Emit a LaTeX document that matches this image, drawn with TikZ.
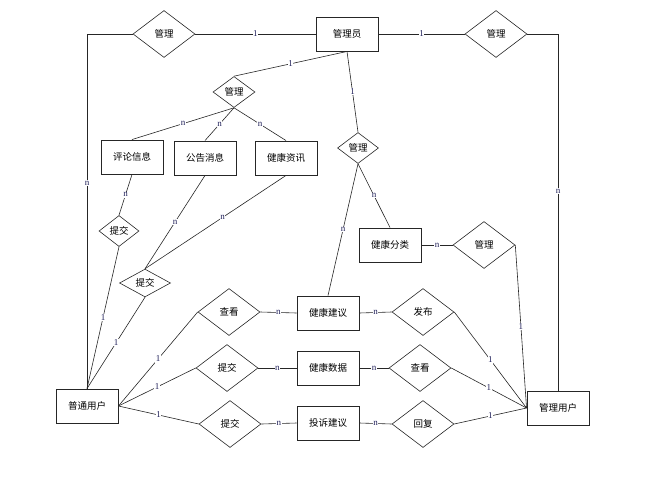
\documentclass[tikz,border=0pt]{standalone}
\usepackage{fontspec}
\setmainfont{Liberation Serif}
\newfontfamily\cjk{Noto Sans CJK SC}
\usetikzlibrary{shapes.geometric}
\definecolor{lblue}{rgb}{0.12,0.12,0.35}
\definecolor{edgegray}{rgb}{0.15,0.15,0.15}

\begin{document}
\begin{tikzpicture}[x=1pt, y=-1pt,
    ent/.style={draw=edgegray, line width=0.9pt, minimum width=62pt, minimum height=34pt, inner sep=0pt, font=\cjk\fontsize{9.5}{9.5}\selectfont},
    rel/.style={diamond, draw=edgegray, line width=0.6pt, inner sep=0pt, minimum width=62pt, minimum height=47pt, font=\cjk\fontsize{9.5}{9.5}\selectfont},
    srel/.style={rel, minimum width=42pt, minimum height=31pt},
    lnk/.style={draw=edgegray, line width=0.6pt},
    lab/.style={fill=white, inner sep=0.6pt, text=lblue, font=\fontsize{9}{9}\selectfont}]
    \useasboundingbox (0,0) rectangle (660,476);
    % entities
    \node[ent] (admin) at (347,34) {管理员};
    \node[ent] (pl) at (132,157) {评论信息};
    \node[ent] (gg) at (205,158) {公告消息};
    \node[ent] (zx) at (286,158) {健康资讯};
    \node[ent] (fl) at (390,245) {健康分类};
    \node[ent] (jy) at (328,313) {健康建议};
    \node[ent] (sj) at (328,368) {健康数据};
    \node[ent] (ts) at (328,423) {投诉建议};
    \node[ent] (user) at (87,406) {普通用户};
    \node[ent] (muser) at (558,408) {管理用户};
    % relations
    \node[rel] (gl1) at (164,34) {管理};
    \node[rel] (gl2) at (496,34) {管理};
    \node[srel] (gl3) at (234,92) {管理};
    \node[srel, minimum width=41pt] (gl4) at (358,148) {管理};
    \node[rel] (gl5) at (484,245) {管理};
    \node[srel, minimum width=40pt] (tj1) at (119,231) {提交};
    \node[srel, minimum width=51pt, minimum height=26pt] (tj2) at (145,283) {提交};
    \node[rel] (ck1) at (229,312) {查看};
    \node[rel] (tj3) at (227,368) {提交};
    \node[rel] (tj4) at (230,424) {提交};
    \node[rel] (fb) at (423,312) {发布};
    \node[rel] (ck2) at (420,368) {查看};
    \node[rel] (hf) at (423,424) {回复};
    % top row
    \draw[lnk] (gl1.west) -| node[lab, pos=0.71]{n} (user.north);
    \draw[lnk] (gl1.east) -- node[lab]{1} (admin.west);
    \draw[lnk] (admin.east) -- node[lab]{1} (gl2.west);
    \draw[lnk] (gl2.east) -| node[lab, pos=0.72]{n} (muser.north);
    \draw[lnk] (admin.south) -- node[lab]{1} (gl3.north);
    \draw[lnk] (admin.south) -- node[lab]{1} (gl4.north);
    % information
    \draw[lnk] (gl3.south) -- node[lab]{n} (pl.north);
    \draw[lnk] (gl3.south) -- node[lab]{n} (gg.north);
    \draw[lnk] (gl3.south) -- node[lab]{n} (zx.north);
    \draw[lnk] (pl.south) -- node[lab]{n} (tj1.north);
    \draw[lnk] (gg.south) -- node[lab]{n} (tj2.north);
    \draw[lnk] (zx.south) -- node[lab, pos=0.45]{n} (tj2.north);
    \draw[lnk] (tj1.south) -- node[lab]{1} (user.north);
    \draw[lnk] (tj2.south) -- node[lab]{1} (user.north);
    % health
    \draw[lnk] (gl4.south) -- node[lab]{n} (fl.north);
    \draw[lnk] (gl4.south) -- node[lab]{n} (jy.north);
    \draw[lnk] (fl.east) -- node[lab]{n} (gl5.west);
    \draw[lnk] (gl5.east) -- node[lab]{1} (muser.west);
    % user side
    \draw[lnk] (user.east) -- node[lab]{1} (ck1.west);
    \draw[lnk] (user.east) -- node[lab]{1} (tj3.west);
    \draw[lnk] (user.east) -- node[lab]{1} (tj4.west);
    \draw[lnk] (ck1.east) -- node[lab]{n} (jy.west);
    \draw[lnk] (tj3.east) -- node[lab]{n} (sj.west);
    \draw[lnk] (tj4.east) -- node[lab]{n} (ts.west);
    \draw[lnk] (jy.east) -- node[lab]{n} (fb.west);
    \draw[lnk] (sj.east) -- node[lab]{n} (ck2.west);
    \draw[lnk] (ts.east) -- node[lab]{n} (hf.west);
    \draw[lnk] (fb.east) -- node[lab]{1} (muser.west);
    \draw[lnk] (ck2.east) -- node[lab]{1} (muser.west);
    \draw[lnk] (hf.east) -- node[lab]{1} (muser.west);
\end{tikzpicture}
\end{document}
